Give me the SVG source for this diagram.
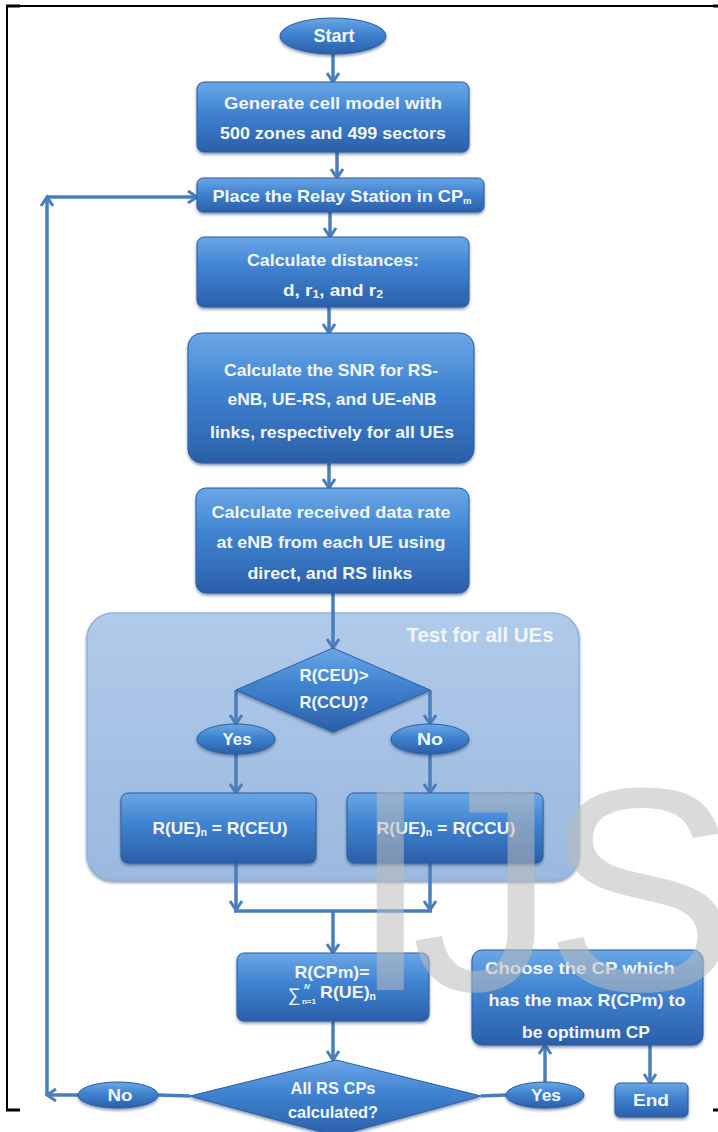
<svg xmlns="http://www.w3.org/2000/svg" width="718" height="1132" viewBox="0 0 718 1132">
<style>
.t{font-family:"Liberation Sans",Arial,sans-serif;font-weight:bold;font-size:17px;fill:#f3f7fc;text-anchor:middle}
.box{fill:url(#gb);stroke:#2c5d9f;stroke-width:1;filter:url(#sh)}
.conn{fill:none;stroke:#4a7ebb;stroke-width:3.5}
.arr{marker-end:url(#ah)}
.frame{stroke:#000;fill:none}
</style>
<defs>
<linearGradient id="gb" x1="0" y1="0" x2="0" y2="1">
<stop offset="0" stop-color="#6aa7e6"/>
<stop offset="0.45" stop-color="#3f82d0"/>
<stop offset="1" stop-color="#2b5fa9"/>
</linearGradient>
<linearGradient id="gc" x1="0" y1="0" x2="0" y2="1">
<stop offset="0" stop-color="#b0cae9"/>
<stop offset="1" stop-color="#9bb9df"/>
</linearGradient>
<filter id="sh" x="-10%" y="-10%" width="120%" height="130%">
<feDropShadow dx="0" dy="2" stdDeviation="1.5" flood-color="#1d3f6e" flood-opacity="0.55"/>
</filter>
<marker id="ah" markerUnits="userSpaceOnUse" markerWidth="16" markerHeight="16" viewBox="0 0 16 16" refX="13" refY="8" orient="auto">
<path d="M4,2 L13,8 L4,14" fill="none" stroke="#4a7ebb" stroke-width="3"/>
</marker>
</defs>
<rect width="718" height="1132" fill="#fff"/>
<g id="frame">
<path class="frame" d="M7,6 H718 M7,6 V1110" stroke-width="2"/>
<path class="frame" d="M6,6 H20 M713,6 H718 M6,1110 H20 M713,1110 H718" stroke-width="3"/>
</g>
<g id="container">
<rect x="87" y="613" width="492" height="267" rx="26" fill="url(#gc)" stroke="#93b3dc" stroke-width="1.5" filter="url(#sh)"/>
<text class="t" x="480" y="642" textLength="147" lengthAdjust="spacingAndGlyphs" style="font-size:21px;fill:#f2f6fc">Test for all UEs</text>
</g>
<g id="connectors">
<line class="conn arr" x1="333" y1="54" x2="333" y2="82"/>
<line class="conn arr" x1="337" y1="152" x2="337" y2="178"/>
<line class="conn arr" x1="330" y1="212" x2="330" y2="237"/>
<line class="conn arr" x1="329" y1="307" x2="329" y2="333"/>
<line class="conn arr" x1="329" y1="463" x2="329" y2="488"/>
<line class="conn arr" x1="333" y1="593" x2="333" y2="648"/>
<line class="conn arr" x1="236" y1="690" x2="236" y2="724"/>
<line class="conn arr" x1="430" y1="690" x2="430" y2="724"/>
<line class="conn arr" x1="236" y1="754" x2="236" y2="793"/>
<line class="conn arr" x1="430" y1="754" x2="430" y2="793"/>
<line class="conn arr" x1="236" y1="863" x2="236" y2="910"/>
<line class="conn arr" x1="430" y1="863" x2="430" y2="910"/>
<line class="conn" x1="234" y1="911" x2="432" y2="911"/>
<line class="conn arr" x1="333" y1="911" x2="333" y2="953"/>
<line class="conn arr" x1="333" y1="1021" x2="333" y2="1060"/>
<line class="conn" x1="190" y1="1096" x2="158" y2="1095"/>
<line class="conn arr" x1="78" y1="1095" x2="47" y2="1095"/>
<line class="conn arr" x1="47" y1="1095" x2="47" y2="197"/>
<line class="conn arr" x1="47" y1="197" x2="197" y2="197"/>
<line class="conn" x1="481" y1="1096" x2="506" y2="1095"/>
<line class="conn arr" x1="545" y1="1082" x2="545" y2="1045"/>
<line class="conn arr" x1="650" y1="1045" x2="650" y2="1083"/>
</g>
<g id="start">
<ellipse class="box" cx="333" cy="36" rx="53" ry="18"/>
<text class="t" x="334" y="42" textLength="41" lengthAdjust="spacingAndGlyphs" style="font-size:18px">Start</text>
</g>
<g id="generate">
<rect class="box" x="197" y="82" width="272" height="70" rx="7"/>
<text class="t" x="333" y="109" textLength="218" lengthAdjust="spacingAndGlyphs">Generate cell model with</text>
<text class="t" x="333" y="139" textLength="226" lengthAdjust="spacingAndGlyphs">500 zones and 499 sectors</text>
</g>
<g id="place">
<rect class="box" x="197" y="178" width="287" height="34" rx="6"/>
<text class="t" x="342" y="202" textLength="259" lengthAdjust="spacingAndGlyphs">Place the Relay Station in CP<tspan style="font-size:9px" dy="2">m</tspan></text>
</g>
<g id="distances">
<rect class="box" x="197" y="237" width="272" height="70" rx="7"/>
<text class="t" x="333" y="266" textLength="172" lengthAdjust="spacingAndGlyphs">Calculate distances:</text>
<text class="t" x="333" y="296" textLength="100" lengthAdjust="spacingAndGlyphs">d, r<tspan style="font-size:11px" dy="2">1</tspan><tspan dy="-2">, and r</tspan><tspan style="font-size:11px" dy="2">2</tspan></text>
</g>
<g id="snr">
<rect class="box" x="188" y="333" width="286" height="130" rx="14"/>
<text class="t" x="331" y="376" textLength="214" lengthAdjust="spacingAndGlyphs">Calculate the SNR for RS-</text>
<text class="t" x="332" y="405" textLength="209" lengthAdjust="spacingAndGlyphs">eNB, UE-RS, and UE-eNB</text>
<text class="t" x="332" y="438" textLength="244" lengthAdjust="spacingAndGlyphs">links, respectively for all UEs</text>
</g>
<g id="datarate">
<rect class="box" x="196" y="488" width="273" height="105" rx="10"/>
<text class="t" x="331" y="518" textLength="239" lengthAdjust="spacingAndGlyphs">Calculate received data rate</text>
<text class="t" x="331" y="548" textLength="229" lengthAdjust="spacingAndGlyphs">at eNB from each UE using</text>
<text class="t" x="330" y="579" textLength="165" lengthAdjust="spacingAndGlyphs">direct, and RS links</text>
</g>
<g id="decision1">
<polygon class="box" points="333,648 430,690 333,732 236,690"/>
<text class="t" x="334" y="681" textLength="69" lengthAdjust="spacingAndGlyphs">R(CEU)&gt;</text>
<text class="t" x="334" y="708" textLength="69" lengthAdjust="spacingAndGlyphs">R(CCU)?</text>
</g>
<g id="yes1">
<ellipse class="box" cx="236" cy="739" rx="39" ry="15"/>
<text class="t" x="237" y="745" textLength="29" lengthAdjust="spacingAndGlyphs">Yes</text>
</g>
<g id="no1">
<ellipse class="box" cx="430" cy="739" rx="39" ry="15"/>
<text class="t" x="430" y="745" textLength="26" lengthAdjust="spacingAndGlyphs">No</text>
</g>
<g id="ceu">
<rect class="box" x="121" y="793" width="195" height="70" rx="7"/>
<text class="t" x="220" y="834" textLength="135" lengthAdjust="spacingAndGlyphs">R(UE)<tspan style="font-size:10px" dy="2">n</tspan><tspan dy="-2"> = R(CEU)</tspan></text>
</g>
<g id="ccu">
<rect class="box" x="347" y="793" width="196" height="70" rx="7"/>
<text class="t" x="446" y="834" textLength="139" lengthAdjust="spacingAndGlyphs">R(UE)<tspan style="font-size:10px" dy="2">n</tspan><tspan dy="-2">  = R(CCU)</tspan></text>
</g>
<g id="rcpm">
<rect class="box" x="237" y="953" width="192" height="68" rx="7"/>
<text class="t" x="332" y="978" textLength="75" lengthAdjust="spacingAndGlyphs">R(CPm)=</text>
<text class="t" x="294" y="1001" style="font-size:18px;font-weight:normal">∑</text>
<text class="t" x="307" y="989" style="font-size:8px;font-style:italic">N</text>
<text class="t" x="309" y="1004" style="font-size:8px">n=1</text>
<text class="t" x="320" y="998" textLength="56" lengthAdjust="spacingAndGlyphs" style="text-anchor:start">R(UE)<tspan style="font-size:10px" dy="2">n</tspan></text>
</g>
<g id="decision2">
<polygon class="box" points="336,1060 481,1096 336,1136 190,1096"/>
<text class="t" x="333" y="1094" textLength="85" lengthAdjust="spacingAndGlyphs">All RS CPs</text>
<text class="t" x="333" y="1118" textLength="90" lengthAdjust="spacingAndGlyphs">calculated?</text>
</g>
<g id="no2">
<ellipse class="box" cx="118" cy="1095" rx="40" ry="13"/>
<text class="t" x="120" y="1101" textLength="25" lengthAdjust="spacingAndGlyphs">No</text>
</g>
<g id="yes2">
<ellipse class="box" cx="545" cy="1095" rx="39" ry="13"/>
<text class="t" x="546" y="1101" textLength="30" lengthAdjust="spacingAndGlyphs">Yes</text>
</g>
<g id="choose">
<rect class="box" x="472" y="950" width="231" height="95" rx="10"/>
<text class="t" x="580" y="974" textLength="190" lengthAdjust="spacingAndGlyphs">Choose the CP which</text>
<text class="t" x="587" y="1006" textLength="197" lengthAdjust="spacingAndGlyphs">has the max R(CPm) to</text>
<text class="t" x="586" y="1038" textLength="128" lengthAdjust="spacingAndGlyphs">be optimum CP</text>
</g>
<g id="end">
<rect class="box" x="615" y="1083" width="73" height="34" rx="5"/>
<text class="t" x="651" y="1106" textLength="36" lengthAdjust="spacingAndGlyphs">End</text>
</g>
<g id="watermark">
<text x="350 411 544" y="990" style="font-family:'Liberation Sans',Arial,sans-serif;font-size:290px;fill:#bcbcbc;fill-opacity:0.55">IJS</text>
</g>
</svg>
